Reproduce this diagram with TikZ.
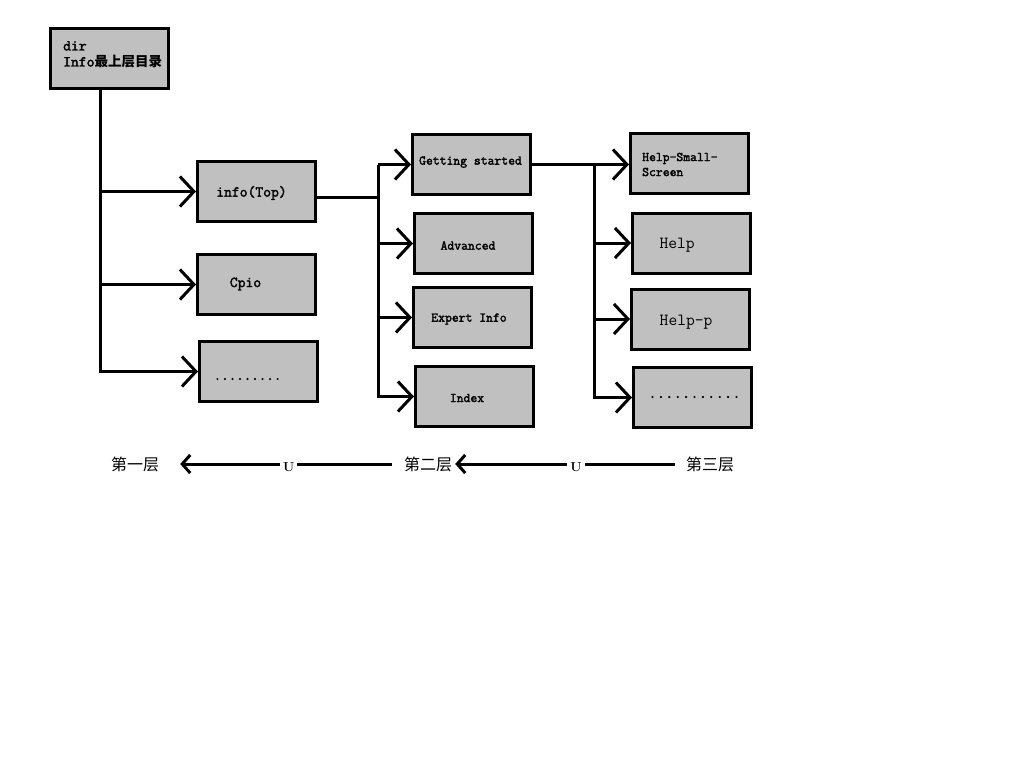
\documentclass[tikz,border=0pt]{standalone}
\usepackage{fontspec}
\newfontfamily\cjk{Noto Sans CJK SC}
\newfontfamily\boxfont{Latin Modern Mono}[FakeBold=2.2]
\usetikzlibrary{arrows.meta}
\definecolor{boxgray}{RGB}{192,192,192}
\tikzset{
    box/.style={draw, line width=3pt, fill=boxgray, minimum width=118pt, minimum height=60pt, inner sep=0pt},
    wire/.style={line width=3pt},
    arr/.style={wire, -{Straight Barb[length=14pt,width=30pt]}},
    back/.style={wire, -{Straight Barb[length=8pt,width=18pt]}},
    small/.style={font=\boxfont\bfseries\fontsize{13.3}{15}\selectfont},
    mid/.style={font=\boxfont\bfseries\fontsize{15.2}{16}\selectfont},
    big/.style={font=\ttfamily\fontsize{17}{18}\selectfont},
    layer/.style={font=\cjk\fontsize{16}{18}\selectfont, inner sep=0pt},
    ulabel/.style={fill=white, inner sep=3pt, font=\rmfamily\bfseries\fontsize{13}{14}\selectfont},
}
\begin{document}
\begin{tikzpicture}[x=1pt, y=-1pt]
    	\path[use as bounding box, fill=white] (0,0) rectangle (1024,768);
    	% Boxes and texts:
    	\node[box](dir) at (109.5, 58.5){} node[anchor=north west, align=left, inner sep=0pt, mid](dir-t) at (63, 41){dir\\Info{\cjk\bfseries\fontsize{13.5}{16}\selectfont 最上层目录}};
    	\node[box](info) at (256.5, 191.5){} node[mid](info-t) at (251.5, 193){info(Top)};
    	\node[box](cpio) at (256.5, 284.5){} node[mid](cpio-t) at (245.5, 284){Cpio};
    	\node[box](dots1) at (258.5, 371.5){} node[font=\boxfont\fontsize{14.6}{14}\selectfont](dots1-t) at (247.5, 379){.........};
    	\node[box](gs) at (471.5, 164.5){} node[small](gs-t) at (470.5, 162){Getting started};
    	\node[box](adv) at (473.5, 243.5){} node[small](adv-t) at (468, 245.5){Advanced};
    	\node[box](exp) at (472.5, 317.5){} node[small](exp-t) at (469, 319){Expert Info};
    	\node[box](idx) at (474.5, 396.5){} node[small](idx-t) at (467, 398){Index};
    	\node[box](hss) at (689.5, 163.5){} node[anchor=west, align=left, inner sep=0pt, small](hss-t) at (642, 164.5){Help-Small-\\Screen};
    	\node[box](help) at (691.5, 243){} node[big](help-t) at (677, 245){Help};
    	\node[box](helpp) at (690.5, 319){} node[big](helpp-t) at (686, 322){Help-p};
    	\node[box](dots3) at (692.5, 397.5){} node[font=\boxfont\fontsize{16.3}{16}\selectfont](dots3-t) at (694.5, 397){...........};
    	% Wires:
    	\coordinate (j1) at (100, 90);
    	\draw[arr] (j1) |- (dots1.west);
    	\draw[arr] (j1 |- info.west) -- (info.west);
    	\draw[arr] (j1 |- cpio.west) -- (cpio.west);
    	\coordinate (j2) at (378, 197);
    	\draw[wire] (info.east |- j2) -- (j2);
    	\draw[arr] (j2 |- gs.west) |- (idx.west);
    	\draw[arr] (j2 |- gs.west) -- (gs.west);
    	\draw[arr] (j2 |- adv.west) -- (adv.west);
    	\draw[arr] (j2 |- exp.west) -- (exp.west);
    	\coordinate (j3) at (594, 164.5);
    	\draw[arr] (gs.east) -- (gs.east -| hss.west);
    	\draw[arr] (j3) |- (dots3.west);
    	\draw[arr] (j3 |- help.west) -- (help.west);
    	\draw[arr] (j3 |- helpp.west) -- (helpp.west);
    	% Layers:
    	\node[layer](l1) at (135, 464){第一层};
    	\node[layer](l2) at (428, 464){第二层};
    	\node[layer](l3) at (710, 464){第三层};
    	\draw[back, shorten <=12pt, shorten >=21pt] (l2.west) -- node[ulabel, pos=0.47, yshift=-3pt](u1){U} (l1.east);
    	\draw[back, shorten <=11pt, shorten >=3pt] (l3.west) -- node[ulabel, pos=0.47, yshift=-3pt](u2){U} (l2.east);
\end{tikzpicture}
\end{document}
